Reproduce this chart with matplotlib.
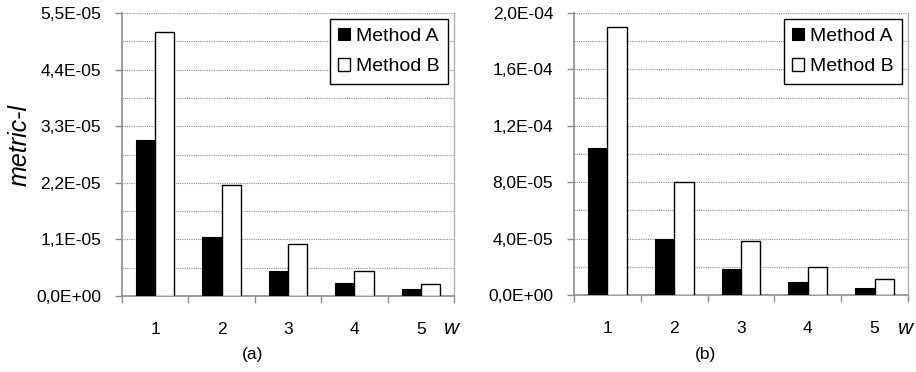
import numpy as np
import matplotlib
matplotlib.use("Agg")
import matplotlib.pyplot as plt
from matplotlib.ticker import FuncFormatter, MultipleLocator

plt.rcParams['font.family'] = ['Liberation Sans', 'DejaVu Sans']

w = [1, 2, 3, 4, 5]
# panel (a)
a_methodA = [3.03e-5, 1.14e-5, 4.9e-6, 2.5e-6, 1.3e-6]
a_methodB = [5.14e-5, 2.15e-5, 1.02e-5, 4.8e-6, 2.4e-6]
# panel (b)
b_methodA = [1.04e-4, 3.98e-5, 1.82e-5, 9.2e-6, 5.2e-6]
b_methodB = [1.90e-4, 8.0e-5, 3.86e-5, 1.99e-5, 1.11e-5]

grey = '#8c8c8c'
fs = 12.5


def sci_comma(v, pos):
    return ('%.1E' % v).replace('.', ',')


def draw(ax, yA, yB, ymax, ystep):
    x = np.arange(len(w))
    bw = 0.29
    ax.bar(x - bw / 2, yA, bw, color='black', edgecolor='black', linewidth=0.8,
           label='Method A', zorder=3)
    ax.bar(x + bw / 2, yB, bw, color='white', edgecolor='black', linewidth=1.0,
           label='Method B', zorder=3)
    ax.set_xlim(-0.5, len(w) - 0.5)
    ax.set_ylim(0, ymax)

    ax.yaxis.set_major_locator(MultipleLocator(ystep))
    ax.yaxis.set_minor_locator(MultipleLocator(ystep / 2))
    ax.yaxis.set_major_formatter(FuncFormatter(sci_comma))
    ax.grid(axis='y', which='both', color=grey, linestyle=(0, (1, 1)),
            linewidth=0.8, zorder=0)

    ax.set_xticks(x)
    ax.set_xticklabels([str(v) for v in w])
    ax.set_xticks(np.arange(len(w) + 1) - 0.5, minor=True)
    ax.tick_params(axis='x', which='major', length=0, pad=19, labelsize=fs)
    ax.tick_params(axis='x', which='minor', length=5, color=grey, width=1)
    ax.tick_params(axis='y', which='major', length=5, color=grey, width=1,
                   labelsize=fs, pad=10)
    ax.tick_params(axis='y', which='minor', length=0)

    for s in ['left', 'bottom']:
        ax.spines[s].set_color(grey)
        ax.spines[s].set_linewidth(1.2)
    ax.spines['right'].set_color('#b0b0b0')
    ax.spines['right'].set_linewidth(1.0)
    ax.spines['top'].set_visible(False)

    leg = ax.legend(loc='upper right', fontsize=14, frameon=True,
                    fancybox=False, edgecolor='black', framealpha=1,
                    handlelength=0.6, handleheight=0.6, handletextpad=0.3,
                    borderaxespad=0.3, labelspacing=0.7, borderpad=0.45)
    leg.get_frame().set_linewidth(1.0)


fig = plt.figure(figsize=(9.16, 3.72), dpi=100)
ax1 = fig.add_axes([122 / 916, 76 / 372, 332 / 916, 283 / 372])
ax2 = fig.add_axes([574 / 916, 77 / 372, 334 / 916, 282 / 372])

draw(ax1, a_methodA, a_methodB, 5.5e-5, 1.1e-5)
draw(ax2, b_methodA, b_methodB, 2.0e-4, 4.0e-5)

fig.text(452 / 916, 1 - 334 / 372, 'w', fontsize=15, style='italic',
         ha='center', va='baseline')
fig.text(906 / 916, 1 - 334 / 372, 'w', fontsize=15, style='italic',
         ha='center', va='baseline')
fig.text(253 / 916, 1 - 354 / 372, '(a)', fontsize=fs, ha='center', va='center')
fig.text(706 / 916, 1 - 354 / 372, '(b)', fontsize=fs, ha='center', va='center')
fig.text(20 / 916, 1 - 145 / 372, 'metric-l', fontsize=18, style='italic',
         rotation=90, ha='center', va='center')

fig.savefig('out.png', dpi=100)
